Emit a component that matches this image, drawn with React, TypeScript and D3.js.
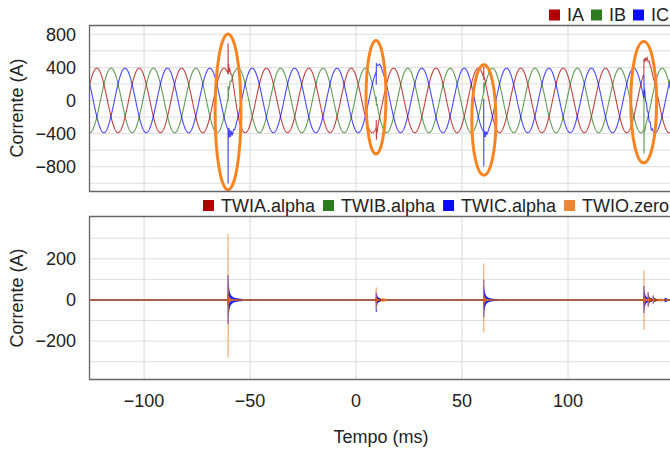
import React from 'react';
import * as d3 from 'd3';

const W = 670;
const H = 451;
const FONT = '"Liberation Sans", Arial, Helvetica, sans-serif';

// ---- Time axis ----
const timeDomain = [-126, 150];
const xTickValues = [-100, -50, 0, 50, 100];
const xGridValues = [-100, -50, 0, 50, 100, 150];

// ---- Top panel: phase currents (A) ----
const phaseNames = ['IA', 'IB', 'IC'];
const phaseColors = ['#b00000', '#2e7a1e', '#0a0aff'];
const phaseAmplitude = [390, 390, 390];
const phaseCrestTime = [-122.3, -115.6, -109.0]; // ms, one crest of each phase
const phasePeriodMs = [20, 20, 20];
const topYDomain = [-1094, 912];
const topYTicks = [800, 400, 0, -400, -800];
const topYGrid = [-1000, -800, -600, -400, -200, 0, 200, 400, 600, 800];

// disturbance instants (ms)
const eventTimes = [-60.4, 9.5, 60.2, 135.8];

// deviation from the sine during each event: [ms after event, A]
const iaDisturbance = [
  [[0, 0], [0.02, 370], [0.1, 0], [0.3, 140], [0.5, 60], [0.8, 130], [1.2, 100], [1.8, 160], [2.5, 120], [3.5, 60], [5, 0]],
  [[0, 0], [0.03, 90], [0.08, -150], [0.2, -40], [0.5, -80], [1, -30], [2, 0]],
  [[0, 0], [0.03, 135], [0.1, -20], [0.4, 40], [1, 10], [2, 0]],
  [[0, 0], [0.03, 177], [0.3, 120], [0.6, 160], [1, 110], [1.5, 130], [2, 80], [2.5, 90], [3, 50], [3.5, 40], [4.3, 0]],
];
const ibDisturbance = [
  [[0, 0], [0.02, 150], [0.1, -30], [0.3, 100], [0.6, 40], [1, 90], [1.5, 30], [2.5, 20], [4, 0]],
  [[0, 0], [0.03, 60], [0.1, -40], [0.4, 20], [1, 0]],
  [[0, 0], [0.03, 120], [0.1, -20], [0.4, 50], [1, 0]],
  [[0, 0], [0.02, 460], [0.05, -290], [0.12, 0], [0.4, -40], [1, 0]],
];
const icDisturbance = [
  [[0, 0], [0.02, -650], [0.08, 0], [0.2, -80], [0.4, 40], [0.6, -70], [0.9, 30], [1.2, -50], [1.6, 20], [2.0, -40], [2.6, 10], [3.2, -20], [4, 0]],
  [[0, 0], [0.03, -160], [0.08, 100], [0.3, 60], [0.8, 40], [1.5, 50], [2.3, 30], [3, 0]],
  [[0, 0], [0.02, 400], [0.05, -420], [0.1, -20], [0.3, -60], [0.5, 20], [0.8, -50], [1.2, 10], [1.6, -30], [2.5, 0]],
  [[0, 0], [0.03, 290], [0.1, 100], [0.4, 150], [0.8, 60], [1.2, 100], [1.6, 30], [2.0, 70], [2.5, 0], [3, 40], [3.5, -20], [4, 20], [4.5, 0]],
];
const phaseDisturbances = [iaDisturbance, ibDisturbance, icDisturbance];

// highlight ellipses (centre time ms, centre A, half-width ms, half-height A)
const ellipseTime = [-60.4, 9.4, 60.3, 135.7];
const ellipseValue = [-139, 39, -236, -21];
const ellipseHalfWidth = [6.1, 4.7, 5.7, 6.1];
const ellipseHalfHeight = [942, 687, 667, 733];

// ---- Bottom panel: travelling-wave currents (A) ----
const twNames = ['TWIA.alpha', 'TWIB.alpha', 'TWIC.alpha', 'TWIO.zero'];
const twColors = ['#b00000', '#2e7a1e', '#0a0aff', '#ee8533'];
const bottomYDomain = [-384, 408];
const bottomYTicks = [200, 0, -200];
const bottomYGrid = [-300, -200, -100, 0, 100, 200, 300];

const twBurstTimes = [-60.4, 9.5, 60.2, 135.8, 137.8, 140.2];
const twiaFirst = [30, 10, 25, 20, 8, 5];
const twiaSecond = [-28, -12, -22, -18, -8, -5];
const twibFirst = [25, 8, 20, 16, 7, 4];
const twibSecond = [-25, -10, -18, -15, -6, -4];
const twicFirst = [120, 35, 97, 68, 36, 20];
const twicSecond = [-117, -57, -84, -63, -32, -18];
const twioFirst = [320, 60, 177, 142, 40, 25];
const twioSecond = [-280, -48, -158, -145, -35, -20];
const twioTail = [35, 10, 28, 22, 12, 8];

function measure(text: string, size = 18): number {
  const c = document.createElement('canvas').getContext('2d');
  if (!c) return text.length * size * 0.55;
  c.font = `${size}px ${FONT}`;
  return c.measureText(text).width;
}

const x = d3.scaleLinear().domain(timeDomain).range([89, 674]);
const yTop = d3.scaleLinear().domain(topYDomain).range([191, 25]);
const yBot = d3.scaleLinear().domain(bottomYDomain).range([379, 216]);

function disturbanceAt(pts: number[][], t0: number, t: number): number {
  const dt = t - t0;
  if (dt < pts[0][0] || dt > pts[pts.length - 1][0]) return 0;
  for (let i = 0; i < pts.length - 1; i++) {
    const [a, va] = pts[i];
    const [b, vb] = pts[i + 1];
    if (dt >= a && dt <= b) return b === a ? va : va + ((vb - va) * (dt - a)) / (b - a);
  }
  return 0;
}

function phaseSeries(p: number): [number, number][] {
  const times: number[] = d3.range(timeDomain[0], timeDomain[1] + 0.05, 0.1);
  eventTimes.forEach((t0, e) => phaseDisturbances[p][e].forEach(([dt]) => times.push(t0 + dt)));
  times.sort((a, b) => a - b);
  return times.map((t) => {
    let v = phaseAmplitude[p] * Math.cos((2 * Math.PI * (t - phaseCrestTime[p])) / phasePeriodMs[p]);
    eventTimes.forEach((t0, e) => (v += disturbanceAt(phaseDisturbances[p][e], t0, t)));
    return [t, v];
  });
}

function twSeries(first: number[], second: number[], tail: number[] | null, c: number, n: number): [number, number][] {
  const out: [number, number][] = [[timeDomain[0], 0]];
  const step = 0.05;
  twBurstTimes.forEach((t0, e) => {
    out.push([t0 - 0.01, 0]);
    for (let k = 0; k < n; k++) {
      const t = t0 + k * step;
      let v: number;
      if (k === 0) v = first[e];
      else if (k === 1) v = second[e];
      else {
        const base = tail ? tail[e] : (first[e] - second[e]) / 2;
        v = (base / (1 + (k * step) / c)) * (k % 2 === 0 ? 1 : -1);
      }
      out.push([t, v]);
    }
    out.push([t0 + n * step, 0]);
  });
  out.push([timeDomain[1], 0]);
  out.sort((a, b) => a[0] - b[0]);
  return out;
}

export default function App() {
  const lineTop = d3.line<[number, number]>().x((d) => x(d[0])).y((d) => yTop(d[1]));
  const lineBot = d3.line<[number, number]>().x((d) => x(d[0])).y((d) => yBot(d[1]));

  const phases = phaseNames.map((_, i) => phaseSeries(i));
  const tw = [
    twSeries(twiaFirst, twiaSecond, null, 0.15, 40),
    twSeries(twibFirst, twibSecond, null, 0.15, 40),
    twSeries(twicFirst, twicSecond, null, 0.3, 130),
    twSeries(twioFirst, twioSecond, twioTail, 0.3, 100),
  ];
  // draw order: blue, green, red, orange (orange on top)
  const twOrder = [2, 1, 0, 3];

  const legend = (names: string[], colors: string[], startX: number, cy: number, gap: number) => {
    let cx = startX;
    return names.map((n, i) => {
      const sx = cx;
      const w = measure(n);
      cx += 11 + 7 + w + gap;
      return (
        <g key={n}>
          <rect x={sx} y={cy - 5.5} width={11} height={11} fill={colors[i]} />
          <text x={sx + 18} y={cy} dy="0.35em" fontSize={18} fontFamily={FONT} fill="#222">{n}</text>
        </g>
      );
    });
  };

  const fmt = (v: number) => (v < 0 ? '\u2212' + Math.abs(v) : String(v));

  return (
    <svg width={W} height={H} style={{ position: 'absolute', left: 0, top: 0, background: '#fff' }}>
      <defs>
        <clipPath id="clipTop"><rect x={89} y={25} width={600} height={166} /></clipPath>
        <clipPath id="clipBot"><rect x={89} y={216} width={600} height={163} /></clipPath>
      </defs>

      {/* grids */}
      {topYGrid.map((v) => (
        <line key={'tg' + v} x1={89} x2={674} y1={yTop(v)} y2={yTop(v)} stroke="#dedede" strokeWidth={1} />
      ))}
      {bottomYGrid.map((v) => (
        <line key={'bg' + v} x1={89} x2={674} y1={yBot(v)} y2={yBot(v)} stroke="#dedede" strokeWidth={1} />
      ))}
      {xGridValues.map((t) => (
        <g key={'xg' + t}>
          <line x1={x(t)} x2={x(t)} y1={25} y2={191} stroke="#dadada" strokeWidth={1} />
          <line x1={x(t)} x2={x(t)} y1={216} y2={379} stroke="#dadada" strokeWidth={1} />
        </g>
      ))}

      {/* top series */}
      <g clipPath="url(#clipTop)">
        {phases.map((s, i) => (
          <path key={i} d={lineTop(s) || ''} fill="none" stroke={phaseColors[i]} strokeOpacity={0.75} strokeWidth={1.1} />
        ))}
        {ellipseTime.map((t, i) => (
          <ellipse
            key={'el' + i}
            cx={x(t)}
            cy={yTop(ellipseValue[i])}
            rx={x(t + ellipseHalfWidth[i]) - x(t)}
            ry={yTop(0) - yTop(ellipseHalfHeight[i])}
            fill="none"
            stroke="#fb8420"
            strokeWidth={3}
          />
        ))}
      </g>

      {/* bottom series */}
      <g clipPath="url(#clipBot)">
        {twOrder.map((i) => (
          <path key={i} d={lineBot(tw[i]) || ''} fill="none" stroke={twColors[i]} strokeOpacity={i === 3 ? 0.75 : 0.9} strokeWidth={1.1} />
        ))}
      </g>

      {/* frames */}
      <path d="M700,25.5 H89.5 V191.5 H700" fill="none" stroke="#666" strokeWidth={1.3} />
      <path d="M700,216.5 H89.5 V379.5 H700" fill="none" stroke="#666" strokeWidth={1.3} />

      {/* y tick labels */}
      {topYTicks.map((v) => (
        <text key={'ty' + v} x={76} y={yTop(v)} dy="0.35em" textAnchor="end" fontSize={18} fontFamily={FONT} fill="#222">{fmt(v)}</text>
      ))}
      {bottomYTicks.map((v) => (
        <text key={'by' + v} x={76} y={yBot(v)} dy="0.35em" textAnchor="end" fontSize={18} fontFamily={FONT} fill="#222">{fmt(v)}</text>
      ))}
      {/* x tick labels */}
      {xTickValues.map((t) => (
        <text key={'xt' + t} x={x(t)} y={401} dy="0.35em" textAnchor="middle" fontSize={18} fontFamily={FONT} fill="#222">{fmt(t)}</text>
      ))}

      {/* axis titles */}
      <text transform={`translate(17,108) rotate(-90)`} dy="0.35em" textAnchor="middle" fontSize={18} fontFamily={FONT} fill="#222">Corrente (A)</text>
      <text transform={`translate(17,298) rotate(-90)`} dy="0.35em" textAnchor="middle" fontSize={18} fontFamily={FONT} fill="#222">Corrente (A)</text>
      <text x={381} y={437} dy="0.35em" textAnchor="middle" fontSize={18} fontFamily={FONT} fill="#222">Tempo (ms)</text>

      {/* legends */}
      {legend(phaseNames, phaseColors, 549, 15, 7)}
      {legend(twNames, twColors, 203, 205.5, 8)}
    </svg>
  );
}
